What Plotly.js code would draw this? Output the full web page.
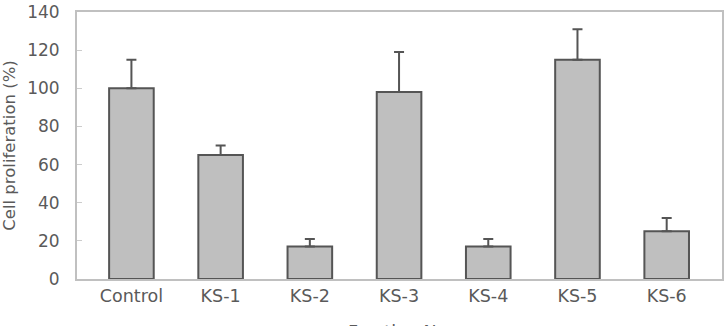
<!DOCTYPE html>
<html>
<head>
<meta charset="utf-8">
<script src="https://cdn.plot.ly/plotly-3.0.1.min.js"></script>
<style>html,body{margin:0;padding:0;background:#fff;}#chart{width:727px;height:326px;}</style>
</head>
<body>
<div id="chart"></div>
<script>
const categories = ["Control", "KS-1", "KS-2", "KS-3", "KS-4", "KS-5", "KS-6"];
const values = [100, 65, 17, 98, 17, 115, 25];
const errors = [15, 5, 4, 21, 4, 16, 7];
const yTicks = [0, 20, 40, 60, 80, 100, 120, 140];
const yTitle = "Cell proliferation (%)";
const xTitle = "Fraction No.";

const textColor = "#5a5a5a";
const frameColor = "#c0c0c0";

const trace = {
  type: "bar",
  x: categories.map((c, i) => i),
  y: values,
  width: 0.5,
  marker: {color: "#bfbfbf", line: {color: "#555555", width: 2}},
  error_y: {
    type: "data",
    symmetric: false,
    array: errors,
    arrayminus: errors.map(() => 0),
    color: "#555555",
    thickness: 2,
    width: 5
  },
  hoverinfo: "none"
};

const layout = {
  width: 727,
  height: 326,
  margin: {l: 77, r: 5, t: 12, b: 47},
  paper_bgcolor: "#ffffff",
  plot_bgcolor: "#ffffff",
  showlegend: false,
  font: {family: "DejaVu Sans", color: textColor},
  xaxis: {
    range: [-0.61, 6.62],
    tickmode: "array",
    tickvals: categories.map((c, i) => i),
    ticktext: categories,
    tickfont: {size: 17.5, color: textColor},
    ticks: "",
    showgrid: false,
    zeroline: false,
    showline: true,
    mirror: true,
    linecolor: frameColor,
    linewidth: 2,
    fixedrange: true
  },
  yaxis: {
    range: [0, 140],
    tickmode: "array",
    tickvals: yTicks,
    tickfont: {size: 17, color: textColor},
    ticks: "inside",
    ticklen: 5,
    tickwidth: 1,
    tickcolor: "#cccccc",
    ticklabelstandoff: 12,
    showgrid: false,
    zeroline: false,
    showline: true,
    mirror: true,
    linecolor: frameColor,
    linewidth: 2,
    title: {text: yTitle, font: {size: 16.5, color: textColor}, standoff: 8},
    fixedrange: true
  },
  annotations: [{
    text: xTitle,
    xref: "paper", yref: "paper",
    x: 0.5, y: 0,
    xanchor: "center", yanchor: "top",
    yshift: -41,
    showarrow: false,
    font: {size: 17.5, color: textColor, family: "DejaVu Sans"}
  }]
};

Plotly.newPlot("chart", [trace], layout, {displayModeBar: false, staticPlot: true});
</script>
</body>
</html>
